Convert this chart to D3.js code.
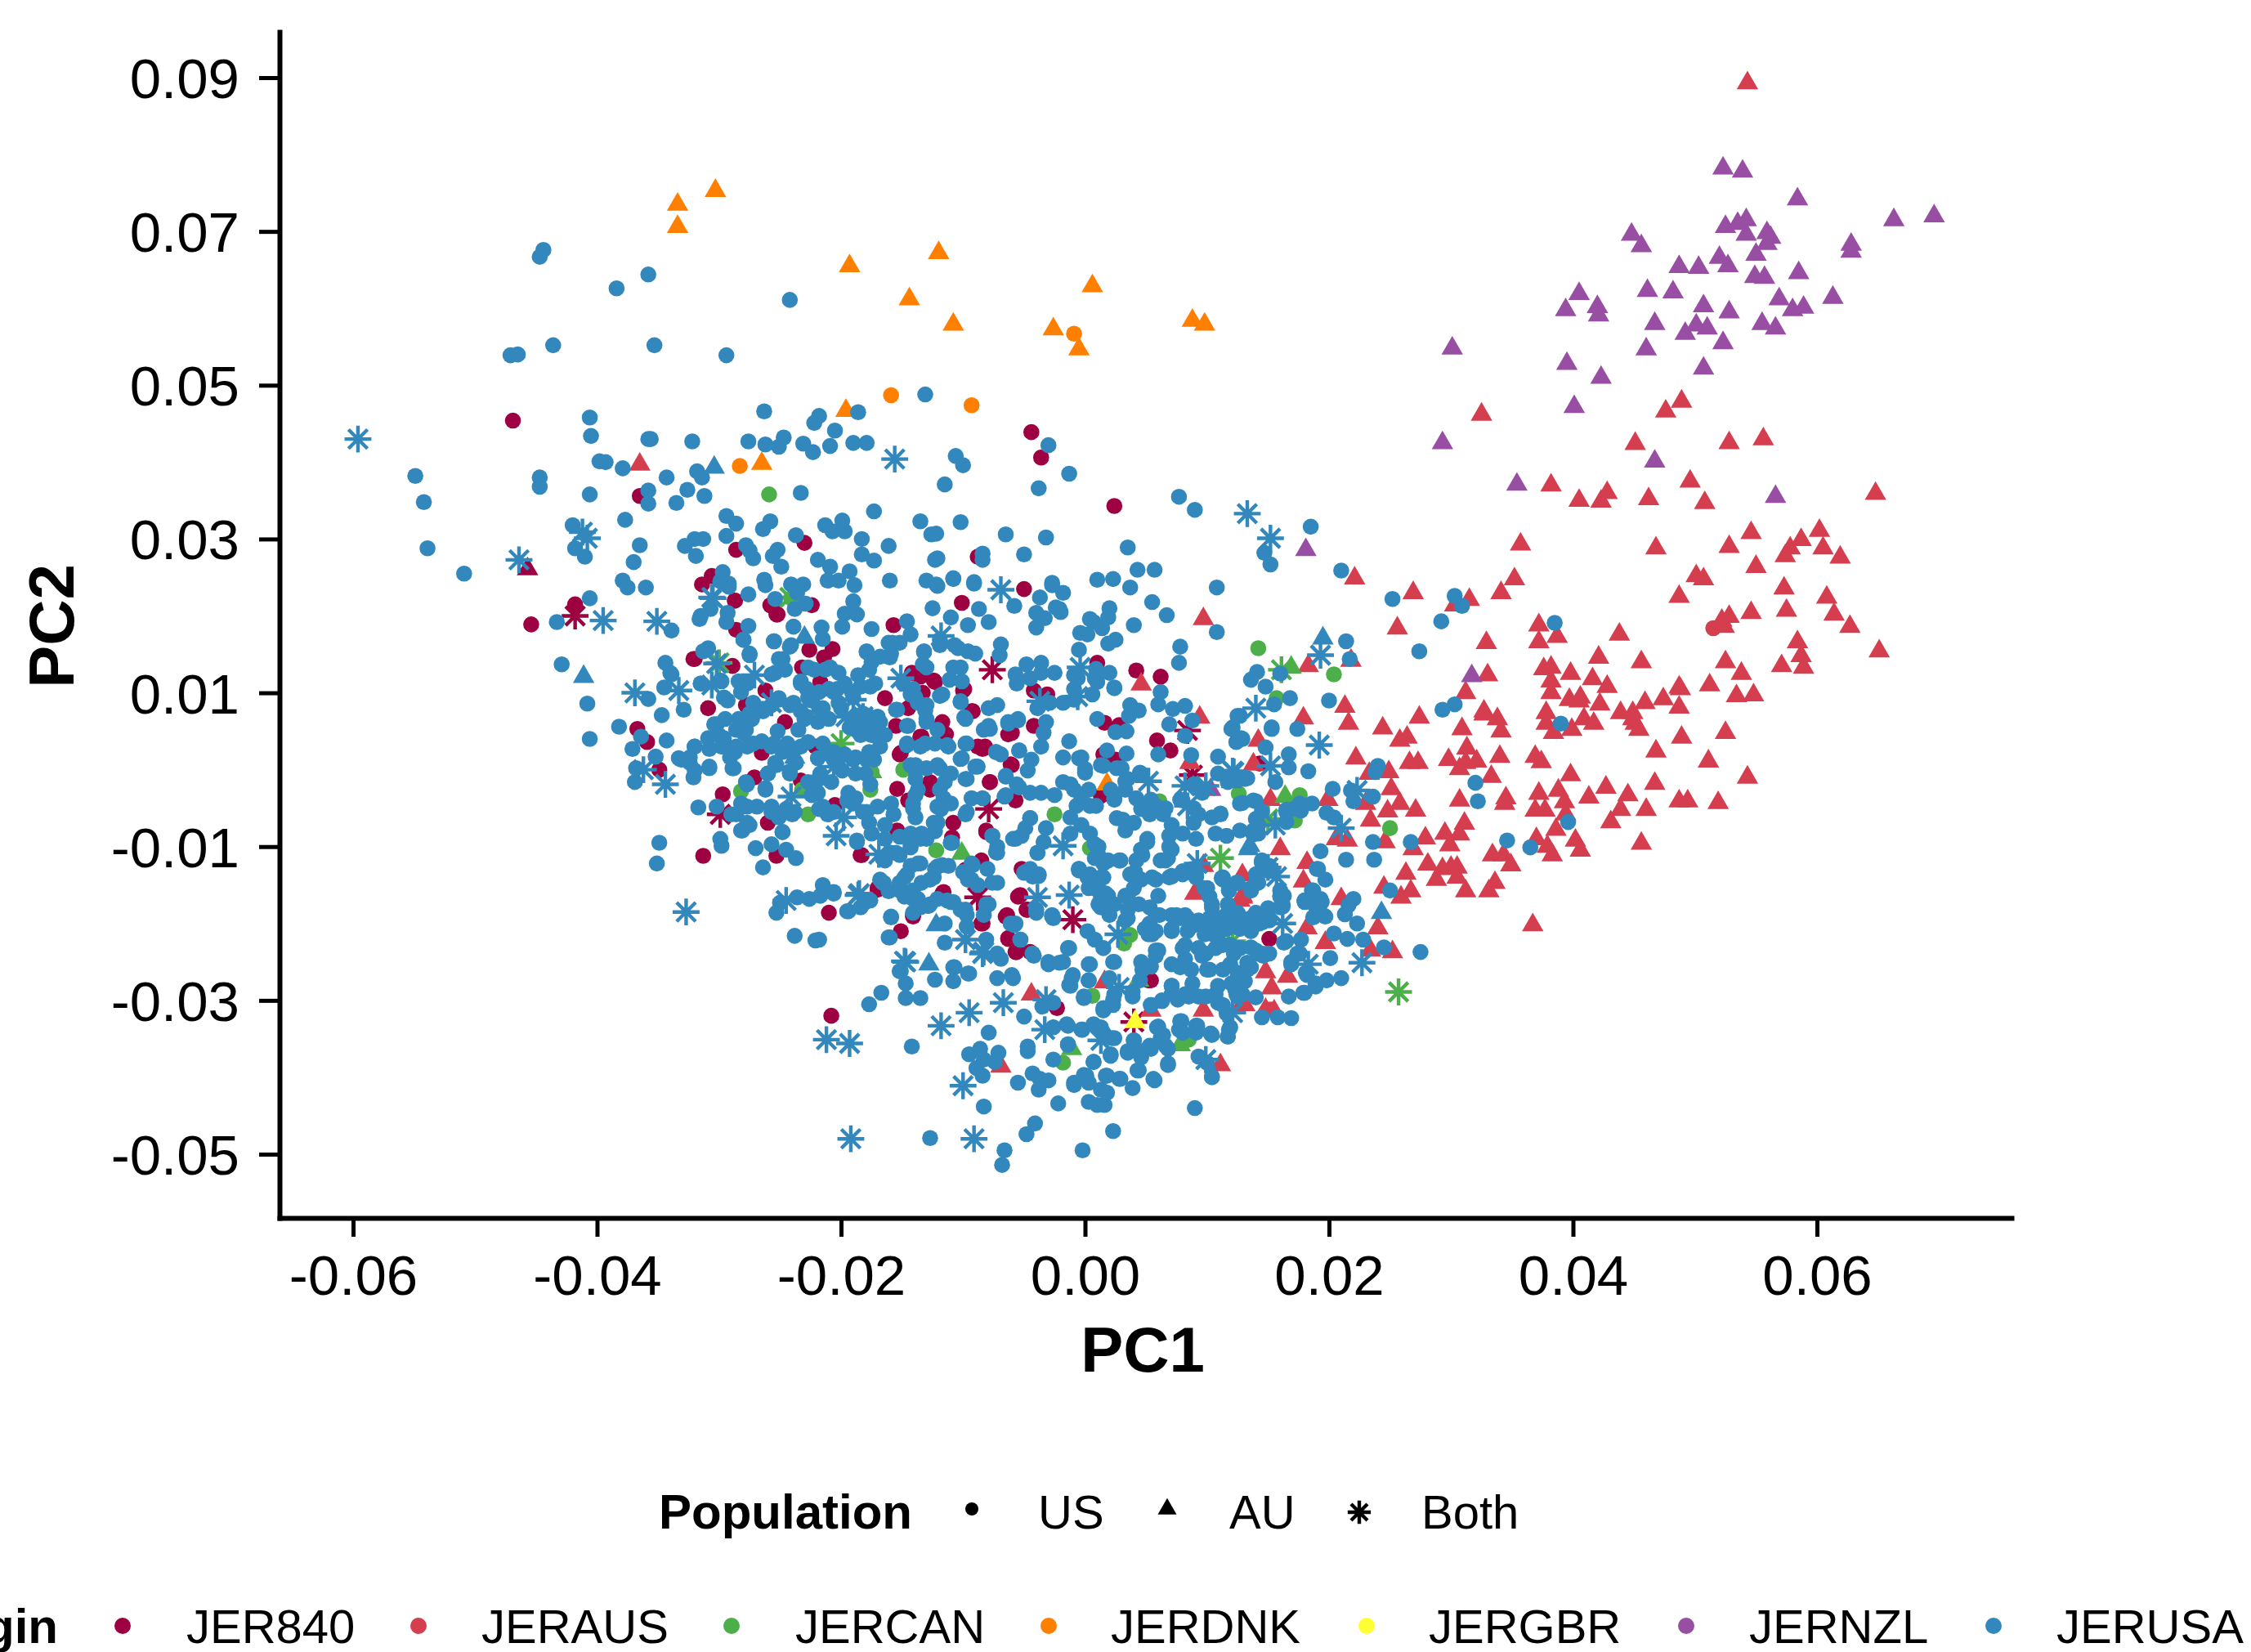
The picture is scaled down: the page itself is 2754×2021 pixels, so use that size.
<!DOCTYPE html>
<html><head><meta charset="utf-8">
<script src="https://cdn.jsdelivr.net/npm/d3@7/dist/d3.min.js"></script>
<style>html,body{margin:0;background:#fff}svg{display:block}text{font-family:"Liberation Sans",Arial,sans-serif;fill:#000}</style>
</head><body><svg id="c" width="2754" height="2021"></svg>
<script>
// Values: [PC1, PC2], both x 1000.
const xTicks=[-60,-40,-20,0,20,40,60];
const xTickLabels=["-0.06","-0.04","-0.02","0.00","0.02","0.04","0.06"];
const yTicks=[-50,-30,-10,10,30,50,70,90];
const yTickLabels=["-0.05","-0.03","-0.01","0.01","0.03","0.05","0.07","0.09"];
const origins=["JER840","JERAUS","JERCAN","JERDNK","JERGBR","JERNZL","JERUSA"];
const originColors=["#9E0142","#D53E4F","#4DAF4A","#FF7F00","#FFFF33","#984EA3","#3288BD"];
const populations=["US","AU","Both"];

const jer840US=[[-46.9,45.4],[-36.5,35.6],[-23,29.5],[-28.6,28.6],[-30.6,25.2],[-31.4,24.1],[-28.7,22],[-25.8,21.4],[-25.2,20.2],[-22.4,21.4],[-41.8,21.5],[-45.4,18.9],[-4.4,43.9],[-3.6,40.6],[2.4,34.3],[-8.8,27.7],[1,13.9],[4.2,12.9],[6.2,12.1],[1.6,6.1],[2.8,5.8],[5.9,3.8],[7,2.5],[1.5,2],[2.5,1.3],[1.3,-3.4],[-28.7,22],[-25.7,21.3],[-25.3,20.2],[-28.6,18.2],[-5,23.5],[-10.1,21.7],[-22.6,15.6],[-20.7,15.7],[-21.4,14.6],[-23.2,13.3],[-21.7,11.4],[-26.2,10.3],[-28.9,13.5],[-32,14.4],[-30.9,8],[-27.8,8.4],[-24.6,6.2],[-16.4,9.3],[-14.5,8],[-15.5,5.7],[-11.7,6.2],[-13.4,4.3],[-15.7,18.8],[-14.2,12.6],[-12.4,11.6],[-13.3,10],[-10,10.3],[-9.3,7.6],[-4.2,5.7],[-6.3,4.6],[-8.4,2.7],[-6,.6],[-7.8,-1.6],[-15.4,-2.5],[-15.1,2.2],[-12.7,-1.6],[-14.5,-4],[-10.8,-6.9],[-10.9,-8.8],[-8.1,-8.1],[-36.7,5.3],[-35.9,3.6],[-34.9,0],[-27.1,-1],[-29.7,-3.2],[-26,-6.9],[-20.5,-4.6],[-23.3,-1.4],[-22.1,3],[-26.5,2.2],[-31.3,-11.2],[-25.3,-11.2],[-18.4,-11.1],[-17,-15.4],[-21,-18.6],[-15.1,-21],[-11.6,-15.9],[-5.2,-12.9],[-5.3,-16.3],[-4.8,-18.2],[-6.4,-18.9],[-8.5,-20],[-6.3,-21.9],[-5.7,-23.7],[-14.1,-19.1],[-15.4,-7.9],[-9.8,-13],[-8.5,-11.8],[-5.7,-4],[-3.1,9.8],[-4.2,10.3],[-20.8,-32],[-2.3,-31],[15.1,-22],[-5.5,-16.5],[-8.4,-20],[-6.5,-19.1],[-6.3,-22],[-5.6,-23.7],[-4.5,-23.7],[-11.7,-16.1],[-14.1,-18.9],[-18.3,-11.1],[-17,-15.6],[5.2,-27.4],[14.3,.8],
[-32.1,14.4],[-13.5,12.1],[-12.3,11.4],[-12.7,-2.6],[-11.4,4.6],[-13.5,4.3],[-15.2,2],[-8.8,3],[-9.9,10.5],[-9.2,7.6],[-7.8,-1.6],[-6.1,.7],[-8.2,3],[-6,4.8],[-8.1,-7.9],[-5.4,-16.4],[-6.4,-19],[-5.6,-23.5],[-4.7,-18.2],[5.4,-27.4]];
const jer840AU=[[-45.7,26.1]];
const jer840Both=[[-41.8,20],[-7.6,13],[-7.9,-5.1],[-29.9,-5.8],[-8.8,-16.6],[8.4,5.1],[8.8,-.7],[4,-32.8],[-1,-19.5]];

const jerausUS=[[51.5,18.4],[15.2,-31.2]];
const jerausAU=[[54.3,89.3],[32.5,46.2],[48.9,47.9],[47.6,46.6],[45.1,42.4],[52.8,42.5],[55.6,43],[38.2,37],[49.6,37.5],[50.8,34.7],[40.5,35],[42.8,36],[42.3,34.9],[46.2,35.2],[64.8,35.9],[54.6,30.8],[60.2,31.1],[58.7,29.9],[57.8,28.8],[57.4,27.8],[60.5,28.8],[61.9,27.6],[52.8,29],[46.8,28.8],[35.7,29.3],[55,26.4],[50.1,25.2],[50.7,24.8],[35.2,24.8],[57.3,23.6],[34.1,23],[26.9,23],[48.7,22.5],[60.8,22.4],[31.5,22.1],[30.3,21.4],[57.5,20.7],[54.6,20.4],[61.4,20.2],[52.2,19.4],[52.8,19.9],[52.4,18.6],[62.7,18.6],[22.1,24.9],[25.6,18.4],[65.1,15.4],[58.4,16.6],[58.7,14.8],[58.9,13.3],[57.1,13.5],[52.5,14],[53.8,12.5],[51.2,11],[53.4,9.6],[54.8,9.7],[32.9,16.5],[37.2,18.8],[38.7,17.3],[37.2,16.6],[43.8,17.6],[42.1,14.6],[45.6,14],[33,12.3],[31.2,10],[37.6,13.1],[38.2,13.3],[39.8,12.5],[41.6,11.8],[38.2,11.5],[38.2,10],[42.8,10.8],[48.7,10.7],[48.8,10.5],[47.4,9.2],[45.9,8.7],[48.7,8.1],[40.6,9.4],[39.7,9.1],[40.5,8.9],[42.2,8.5],[37.8,7.4],[43.9,7.4],[44.9,7.4],[44.9,6.6],[45.1,6],[45.4,5.2],[32.7,7.6],[32.7,7.2],[33.8,6.6],[34.1,5],[40.9,6.6],[41.7,6],[37.8,6],[38.4,4.8],[39.9,5.2],[48.9,4.2],[52.5,4.8],[30.9,5.3],[27.4,6.8],[24.4,5.4],[26.4,4.2],[25.8,3.8],[46.8,2.4],[51.1,1.1],[31.3,2.8],[29.8,1.3],[34,1.7],[36.9,1.7],[37.4,1],[32.1,1.1],[31.2,.9],[30.7,.1],[27.3,.9],[26.6,.9],[22.2,1.5],[33.3,-.9],[39.8,-.7],[46.7,-1.8],[54.3,-1],[42.7,-2.3],[44.5,-3.3],[38.8,-2.7],[37.2,-3.1],[39.3,-4.2],[41.3,-3.6],[34.5,-3.7],[34.4,-4.4],[30.7,-4],[48.7,-4.1],[49.4,-4.1],[51.9,-4.3],[36.9,-5.3],[37.7,-5.3],[43.9,-5.2],[46,-5.2],[39.4,-5.8],[43.1,-6.8],[38.6,-7.8],[31.1,-7],[30.7,-8.4],[29.5,-8.3],[25.1,-2.5],[24.8,-5.4],[25.8,-4.4],[27.1,-5.3],[23.4,-6.6],[24.9,-.3],[23.3,-.5],[23,-4.4],[45.6,-9.6],[40.2,-9.2],[40.6,-10.5],[37,-9],[37.9,-10],[38.3,-11.1],[33.4,-11.1],[34.3,-11.1],[34.9,-12.4],[27.9,-8.9],[26.9,-10.3],[29.9,-9.8],[28.1,-12.3],[29.3,-12.9],[30,-12.7],[30.5,-12.7],[28.8,-14.3],[30.5,-14],[26.3,-13.5],[33.6,-14.7],[33.1,-15.8],[31.2,-15.8],[26.7,-15.8],[25.9,-16.6],[24.5,-15.3],[36.7,-20.2],[16,-10.3],[17.9,6.7],[21.3,8.2],[21.6,6],[14.2,3.8],[13.8,.7],[21.5,-9.2],[20.6,-9],[24.6,-9.4],[18.2,-12.1],[17.9,-14.5],[21,-16.8],[24,-20.6],[19.7,-22.5],[25.2,-23.7],[18.2,-20.6],[23.4,-23.5],[14.8,-26.3],[16.6,-26.9],[15.3,-28.4],[14.8,-31.2],[15.5,-31.4],[12.9,-30.4],[12.9,-16.6],[12.9,-13.7],[15.2,-3.9],[19.9,-3.9],[18.3,13.5],[21.8,14.2],[-36.5,39.7],[9.7,19.6],[4.6,11.1],[9.4,6.8],[8.6,.9],[-4.4,-29.2],[1.6,-27.6],[5.4,-31.3],[9,-16.1],[11.1,-38.4],[-6.9,-38.6],[9.7,-12.5],[12.9,-16.4],[13.1,-30.6],[9.7,-31.3],[12.7,-17]];

const jercanUS=[[-25.9,35.8],[-24.1,22.3],[14.2,15.8],[20.4,12.4],[15.7,9.3],[25,-7.6],[12.6,-3.1],[17.6,-3.3],[17.2,-6.6],[-2.5,-5.8],[6.1,-4.1],[-17.5,-.3],[-14.9,0],[-23.2,-2.6],[-28.2,-2.8],[-22.7,-5.8],[-17.6,-2.6],[-12.2,-10.5],[3.7,-21.5],[3.2,-22.6],[-1.8,-38.1],[.6,-29.4],[8.5,-35.1],[.4,-10.2]];
const jercanAU=[[16.9,13.3],[16.4,-3.5],[-10.1,-10.9],[7.8,-35.8],[-1.1,-36.3],[4.4,-27.4],[-17.5,-.3]];
const jercanBoth=[[16.1,13],[25.7,-28.9],[15,-6.4],[11.1,-11.5],[12.1,-22.3],[-24.2,22.4],[-30,13.9],[-20,3.4]];

const jerdnkUS=[[-15.9,48.7],[-28.3,39.5],[-.9,56.7],[-9.3,47.4]];
const jerdnkAU=[[-30.3,75.3],[-33.4,73.5],[-33.4,70.6],[-19.3,65.5],[-14.4,61.2],[-19.6,46.7],[-26.5,39.8],[-12,67.2],[.6,62.9],[-10.8,57.9],[-2.6,57.3],[-.5,54.7],[8.8,58.4],[9.8,57.9],[1.8,-1.9]];

const jergbrAU=[[4.1,-32.8]];

const jernzlAU=[[52.3,78.2],[53.9,77.8],[58.4,74.2],[66.3,71.5],[69.6,72],[52.5,70.6],[53.5,71],[54.2,71.5],[54.2,69.6],[55.9,69.8],[56.2,69.2],[55.9,68.4],[55,67],[44.8,69.6],[45.6,68.1],[62.8,68.3],[62.8,67.4],[52,66.6],[52.7,65.5],[48.7,65.4],[50.3,65.3],[54.9,64.1],[55.7,64],[58.5,64.6],[46.1,62.3],[48.2,62.1],[56.9,61.2],[61.3,61.4],[40.5,61.9],[39.4,59.8],[42,60.2],[42.1,59.1],[50.7,60.3],[58,59.8],[58.9,60.1],[52.8,59.5],[46.7,58],[50.1,57.8],[51,57.4],[49.2,56.7],[55.5,58],[56.6,57.4],[52.3,55.5],[46,54.7],[30.1,54.8],[39.5,52.8],[50.7,52.2],[42.3,51],[40.1,47.2],[29.3,42.5],[46.7,40.1],[35.4,37.1],[56.6,35.5],[18.1,28.6],[31.7,12.2],[10.3,-2.6]];

const jerusaUS=[
[-44.4,67.6],[-44.7,66.7],[-35.8,64.4],[-38.4,62.6],[-24.2,61.1],[-47.1,53.9],[-46.5,54],[-43.6,55.2],[-35.3,55.2],[-29.4,53.9],[-26.3,46.6],[-21.8,46],[-22.2,45.1],[-18.6,46.5],[-13.1,48.8],[-40.6,45.8],[-40.5,43.4],[-35.8,43],[-35.6,43],[-32.2,42.7],[-27.6,42.7],[-26.2,42.3],[-25.1,42],[-24.7,43.2],[-23.1,42.4],[-22.3,41.3],[-20.9,42.1],[-20.5,44.1],[-19,42.5],[-17.9,42.5],[-54.9,38.2],[-54.2,34.8],[-53.9,28.8],[-50.9,25.5],[-44.7,38],[-44.7,36.8],[-40.6,35.8],[-39.8,40.1],[-39.3,40],[-37.9,39.2],[-34.3,38],[-31.8,38.8],[-31.4,38],[-32.6,36.4],[-31.2,35.6],[-33.5,34.7],[-35.8,36.3],[-35.8,34.6],[-23.3,36],[-17.3,33.6],[-13.5,32.3],[-42,31.8],[-37.7,32.5],[-29.4,33],[-28.6,32],[-25.8,32.3],[-26.4,31.3],[-29.4,30.4],[-32,30],[-31.3,30],[-32.8,29.1],[-31.9,27.8],[-36.5,29.2],[-37,27],[-41.8,28.8],[-41,27.7],[-27.8,29.2],[-27.5,28.5],[-27.2,27.5],[-25.6,27.8],[-25.2,28.6],[-24.9,26.4],[-23.7,30.5],[-21.3,31.8],[-20.7,31],[-19.9,32.4],[-19.7,31],[-18.3,30],[-16.1,29.1],[-18.3,28],[-17.3,27.2],[-21.9,27.3],[-20.9,26.4],[-21.1,24.6],[-20.2,24.6],[-19.3,25.8],[-18.9,24],[-16,24.6],[-13,24.6],[-37.9,24.6],[-37.5,23.7],[-36,23.7],[-29.7,25.7],[-29.9,24.5],[-29.2,24.2],[-29.2,23.8],[-27.6,22.8],[-26.3,24.7],[-26.2,24],[-24.1,24.1],[-23.1,24.1],[-23.6,23],[-25.4,22.2],[-23.8,20.9],[-22.9,21.6],[-19,21.9],[-19.7,20.3],[-18.7,20.2],[-29.3,20.4],[-30.7,20.9],[-31.5,20],[-40.6,22.3],[-12.6,30.6],[-12.3,27.3],
[-3,42.2],[-10.6,40.8],[-10,39.6],[-1.3,38.5],[-11.5,37.1],[-3.8,36.6],[7.7,35.5],[9,33.8],[-10.2,32.2],[-12.2,30.7],[-6.5,30.6],[-3.2,30.2],[3.5,28.9],[-8.4,28.1],[-8.4,27.3],[-5,28],[-12.1,27.5],[4.3,26],[5.7,26],[1,24.7],[2.3,24.8],[3.7,23.7],[10.8,23.7],[-10.8,24.8],[-9.1,24.2],[-12.1,23.9],[-2.7,24],[-1.8,23],[5.5,21.8],[6.7,20.1],[4,18.8],[10.8,17.9],[7.8,16],[7.7,13.9],[.4,19.6],[2,21],[1.9,19.8],[.7,19.2],[1.4,18.4],[-.4,17.8],[.2,17.6],[2.5,16.9],[1.9,16.4],[-.5,15.6],[2,12.6],[.9,13.1],[-.6,11.9],[1,11.4],[2.4,10.6],[6.2,10.1],[6,8.5],[7.2,7.9],[8.2,8.3],[3.7,8.4],[4.4,7.7],[3.6,7],[1,6.6],[2.5,4.9],[3.4,5],[6.9,5.9],[8.8,6.4],[8.2,4.4],[10.9,1.7],[8.7,1.9],[6,2],[3.4,2.1],[1.8,2.5],[-1.3,3.7],[-.5,1.5],[0,-.4],[1.5,.5],[3,.2],[4.5,-.4],[3.3,-1.5],[2.1,-2.6],[.3,-2.6],[-1.2,-1.9],[.9,-4.7],[-.3,-3.9],[2.4,-3.9],[5.4,-3.9],[6.6,-5],[7.8,-3.9],[8.9,-5],[11.1,-5.7],[10.9,-.5],[12.6,-1.2],[11.7,-1.6],[-2.1,20.9],[-2,20.5],
[18.5,31.6],[14.7,28.2],[15.2,26.7],[21,25.9],[25.2,22.2],[30.3,22.6],[30.9,21.3],[29.2,19.3],[27.4,15.4],[21.4,16.7],[21.7,14.4],[38.5,19.1],[30.3,8.5],[29.3,7.8],[39,6],[20,9],[16.8,9.3],[15.5,8.5],[32,-1.7],[32.2,-4.1],[39.6,-6.8],[34.6,-9.2],[36.5,-10.1],[26.7,-9.4],[23.6,-9.4],[19.3,-10.6],[25,-15.7],[17.4,5.3],[15.3,5.3],[12.7,7],[12.1,5.5],[12.9,4],[12.4,3.6],[14.8,2.9],[16.7,2],[16.7,.3],[18.3,-.2],[15.6,-1.6],[20.3,-2.5],[24,.5],[23.8,-.3],[21.8,-2.7],[22,-4.1],[23.6,-3.5],[14.1,12.7],[13.6,11.7],[14.8,10.8],[16,12.5],[12.9,-4.3],[14,-4.1],[16.5,-5.2],[17.7,-5.3],[18.6,-4.4],[19.8,-5.6],[20.4,-6.2],[16.5,-6.8],[14,-6.4],[13.8,-8.4],[12.4,-.9],[13.3,-1.1],[14.5,-12.1],[15,-12.9],[19.1,-12.9],[19.7,-14.3],[16,-15.7],[16.2,-17.8],[18.6,-15.7],[19.3,-16.8],[18,-17],[18.9,-17.8],[19.6,-19],[18.7,-19.2],[22,-16.8],[21.6,-17.6],[21.3,-18.8],[22.3,-20],[20.4,-21.3],[21.5,-22],[22.8,-22.1],[24.5,-23.1],[27.5,-23.7],[20.1,-24.5],[17.5,-23.9],[16.9,-25.3],[18.2,-26.7],[19.8,-27.4],[21,-27.1],[18.9,-28.2],[17.9,-29],[16.7,-29.5],[14,-29.6],[16.5,-22.3],[17.7,-22.1],[15,-23.9],[13.6,-23.1],[13.3,-25.1],[12.2,-23.9],[13.1,-27.5],[14.6,-19.8],[12.6,-19.4],[13.6,-21],[15,-18],[13.6,-15.7],[12.2,-18.6],[14.5,-32.2],[15.8,-32.2],[16.9,-32.3],[21.4,-11.7],[23.7,-11.7],
[-43.3,19.2],[-42.9,13.7],[-40.8,8.6],[-40.6,4],[-38.2,5.6],[-34.7,7.1],[-32.9,7.8],[-35.8,9.2],[-33.9,18.1],[-34.4,13.9],[-33.9,12.4],[-34.5,10.7],[-31.5,11.2],[-29.9,11.6],[-31.6,19.6],[-29.4,19.2],[-27.6,18.7],[-28,16.9],[-27.5,14.9],[-25.5,16.7],[-23.9,18.6],[-21.6,18.5],[-21.5,17],[-24.1,16.2],[-24.8,14.4],[-25.4,12.6],[-19.9,18.6],[-17.5,18.3],[-12.2,24.1],[-12.5,21],[-11,19.8],[-9.1,24.4],[-10.8,24.9],[-5.8,21.3],[-9.6,18.8],[-8.7,20.9],[-7.9,19.2],[-3.7,22.4],[-2.7,24.3],[-4,20.4],[-3.3,19.7],[-4,18.5],[-6.9,16.3],[-7,14.9],[-2.4,21.1],[-14.6,19.3],[-14.3,17.6],[-15.8,16.5],[-17.9,15.3],[-16,14.6],[-13.2,15.3],[-11.9,16.9],[-10.4,15.8],[-9,15.1],[-10.2,13.3],[-11.1,11.7],[-13.3,13.7],[-4.8,13.7],[-3.6,13.9],[-5.7,12.4],[-11.7,9.8],[-10.2,8.9],[-9.9,6.8],[-22.7,13.3],[-20.9,13.3],[-23.3,11.2],[-21.8,10.1],[-20.3,10.5],[-19.1,10.1],[-17.6,10.8],[-14.9,11.2],[-14.3,9.8],[-13.7,8.7],[-13.1,7.7],[-13,6.2],[-15.4,7.8],[-14.5,5.7],[-28.1,10.9],[-29.6,9.4],[-27.2,8.7],[-25.1,9.1],[-23.9,8.7],[-22.7,9.4],[-21.8,8],[-23,6.6],[-20,8],[-18.2,7.3],[-17,6.9],[-17.3,5.5],[-18.2,4.8],[-16.9,4.1],[-18.8,5.2],[-30.2,5.9],[-28.4,6.6],[-29.6,4.1],[-27.8,5.2],[-25.2,5],[-27.2,3.4],[-28.7,2.3],[-30.8,2.7],[-32,3],[-33.3,1.5],[-32.4,.9],[-30.8,.2],[-32.1,-1],[-34.3,3.8],[-37.1,2.7],[-36.4,4.3],[-35.2,1.7],[-36.9,-1.6],[-36.8,.2],[-28.8,.2],[-25.7,3],[-23.9,2.7],[-22.7,3.6],[-21.5,3.4],[-26,-.5],[-27.8,-1.6],[-26.2,-2.6],[-30.2,-4.8],[-31.7,-4.9],[-28.2,-4.4],[-29,-5.8],[-27.7,-6.9],[-28.1,-7.9],[-24.8,-8.1],[-25.7,-5.5],[-24.5,-5.1],[-23.8,-5.5],[-22.7,-1.6],[-22.4,-3.3],[-21.8,-5.1],[-21.1,-5.8],[-25.4,.9],[-24.2,-.2],[-21.8,-1.2],[-20.3,.9],[-18.8,1.6],[-20.6,2.3],[-18,-.5],[-17.6,-1.9],[-19.4,-3],[-18.8,-3.7],[-18.2,-5.5],[-17.3,1.3],[-13.9,.6],[-13.9,-1.2],[-13.9,-3.3],[-14.1,-5.1],[-11.9,.2],[-11.5,-1.6],[-11.6,-3.7],[-11.8,-5.1],[-12.4,-6.9],[-13.4,-8.3],[-14.6,3.2],[-13.1,3.4],[-11.3,3.2],[-9.8,3.4],[-10.2,1.4],[-8.8,.4],[-7.3,2.3],[-5.4,2.5],[-6.5,-.9],[-9.7,-1.2],[-8.4,-3.7],[-9.7,-5.5],[-6.6,-3.5],[-5.4,-2.3],[-4.5,-6.3],[-7.8,5.3],[-6.3,6],[-5.5,6.4],[-3.9,8],[-7.6,-8.6],[-5.7,-9],[-7.2,-10.8],[-3.9,-10.8],[-10.9,-9.5],[-16.4,-11.8],[-15.5,-10.8],[-13.7,-12.2],[-12.1,-12.6],[-14.6,-13.6],[-16.6,-14.7],[-15.2,-15.7],[-14.1,-16.8],[-12.9,-17.7],[-11.3,-17],[-10.2,-18.2],[-9.6,-14.3],[-7.6,-14.7],[-8.1,-17.7],[-4.9,-13.3],[-3.9,-13.8],[-5.8,-20.2],[-2.7,-18.9],[-4,-18.2],[-18.7,-9.4],[-14.3,-9.7],[-34.9,-9.5],[-35.1,-12.2],[-29.9,-9],[-29.8,-9.9],[-27,-10.2],[-25.7,-9.7],[-24.5,-10.4],[-23.7,-11.5],[-26.4,-12.7],[-25.3,-18.6],[-25,-17.3],[-23.6,-16.6],[-22.6,-16.8],[-21.5,-15],[-21.7,-16.4],[-20.6,-15.9],[-19.4,-18.4],[-18.4,-17.9],[-17.6,-17],[-15.9,-19.2],[-16,-21.8],[-23.8,-21.6],[-22.1,-22.2],[-11.5,-22.5],[-9.7,-20.4],[-4.2,-24.2],[-3,-25.3],[-10.7,-25.7],[-9.6,-26.5],[-15.2,-26.2],[-6.9,-24.6],[-6,-26.7],
[-6.8,-51.4],[-6.6,-49.5],[-4.8,-47.4],[-4.1,-46],[-12.7,-47.9],[-.2,-49.5],[2.3,-47],[9,-44],[-8.3,-43.8],[-2.2,-43.4],[.3,-43.2],[1,-43.6],[1.6,-43.6],[1.8,-42],[1.3,-41.6],[3.9,-41.4],[5.7,-40.4],[10.4,-40],[6.8,-38.4],[4.4,-39.1],[2.8,-40.2],[1.8,-39.8],[.3,-40.7],[-.9,-41],[-.1,-39.7],[.7,-38],[-2.6,-37.7],[2.1,-37],[3.5,-36.6],[4.6,-37.4],[5.4,-36.3],[6.8,-36.3],[4,-35.2],[-1.4,-35.7],[-4.7,-36],[-4.7,-36.6],[-14.2,-36],[-7.9,-34.2],[-5,-32.1],[-5.5,-40.7],[-4.3,-39.5],[-3.8,-41.6],[-3,-40.4],[-3.7,-40.2],[-8.4,-39.8],[-8.9,-38.8],[-9.5,-37],[-8.6,-36.3],[-7.1,-36.8],[-8.3,-37.7],[-7.4,-38],[-1.4,-33.3],[-2.6,-33.5],[-.2,-33.8],[1.3,-33.5],[2.2,-34.9],[5.9,-33.5],[6.4,-34.5],[7.8,-32.7],[8,-34.2],[9.2,-33.3],[10.4,-34.5],[11.7,-34.7],[11.9,-33.5],[6.3,-30.1],[5.4,-30.6],[18,-29],[18.9,-27.8],[18.1,-26.4],[16.9,-25],[17.4,-23.9],[-17.7,-30.5],[-16.7,-29],[-14.7,-29.7],[-13.5,-29.7],[-14.7,-27.8],[-15.1,-26.2],[-12.3,-27.3],[-10.8,-25.7],[-10.8,-27.5],[-9.5,-26.5],[-7.2,-27.1],[-5.9,-27.1],[-1.3,-28],[.3,-27.4],[-1.1,-27.1],[-.1,-29.7],[-3.5,-30.8],[-2.6,-30.3],[1.5,-31],[2.3,-29.9],[.3,-25.3],[3.9,-28.9],[4.7,-26],[2.3,-25],[-.5,-13.1],[.6,-14.3],[1.5,-14],[.3,-15.4],[1.3,-16.5],[2,-17.5],[3.4,-16.5],[4.1,-13.3],[5.1,-9.4],[4.7,-11.1],[4.1,-14],[4.4,-17.5],[3.5,-19.3],[6.1,-18.9],[5.2,-21.4],[5.8,-24.2],[7.1,-28.1],[6.8,-11.5],[7.1,-13.8],[8.8,-12.9],[10.2,-16.5],[10,-15.4],[11.7,-17.5],[11.7,-18.6],[14,-13.6],[14.5,-12],[16,-16.5],[16,-17.9],[11.2,-14.1],[12.4,-14.7],[7.8,-19.3],[8.8,-20.3],[10.5,-21.4],[12.2,-20.3],[14.3,-20],[14,-18.6],[12.6,-18.9],[10.2,-19.3],[8.2,-22.8],[9.9,-23.9],[11.9,-22.8],[14,-23.5],[14.6,-24.2],[13.3,-26],[11.9,-25.3],[10.2,-26],[7.8,-25.7],[8.8,-27.8],[10.9,-28.1],[12.3,-28.5],[9.9,-29.5],[8.5,-29.5],[10.9,-30.3],[11.6,-31.7],[7.1,-29.2],[12.4,-29.2],[-21.4,-15.7],[-20.6,-16.1],[-19.5,-18.4],[-18,-17.2],[-16.1,-21.8],[-21.8,-22.1],[-11.5,-20],[-13.4,-14.7],[-15.1,-15.7],[-16.5,-14.7],[-12.4,-14],[-13.7,-16.8],[-14.1,-18.6],[-12.7,-17.5],[-11.7,-12.4],[-10,-13.3],[-9.3,-12.2],[-7.2,-10],[-11,-9.5],[-9.3,-14.3],[-11,-17.2],[-9.8,-18.2],[-8.3,-18.9],[-8.1,-17.5],[-5.7,-20],[-5.3,-22.1],[-3.8,-13.6],[-4.5,-12.9],[-2.6,-19.3],[-3,-25],[-2.1,-25.1],
[-30.4,5.9],[-29.5,6.6],[-28.6,5.2],[-30,4.5],[-30.9,4.1],[-28,4.8],[-27.3,6.6],[-29.8,3],[-29.1,1.6],[-28.6,3],[-27.7,3],[-28.9,.2],[-32,3],[-32.4,1.6],[-33.1,1.3],[-32,-.1],[-30.8,.4],[-26.5,3.7],[-25.5,3.4],[-24.8,2.3],[-25.3,.6],[-23.7,.9],[-24.2,-.5],[-26,-.5],[-26.2,-2.4],[-24.4,3.4],[-23.3,3],[-23.5,5.2],[-22.8,6.9],[-21.9,6.2],[-21,6.6],[-21.5,8],[-22.4,9],[-23.3,7.6],[-24.2,8.4],[-25.1,9.3],[-25.7,8.4],[-26.4,7.6],[-27.5,7.3],[-23.3,11.5],[-22.2,13],[-21.3,13],[-20.2,12.6],[-20.6,10.1],[-19.7,11.2],[-18.6,12.3],[-17.7,13],[-17.2,11.2],[-18.4,10.8],[-19,9.4],[-20.2,8.7],[-21,10.5],[-22.8,10.5],[-16.8,14.7],[-15.9,15.1],[-17.5,14],[-16.1,16.5],[-18.8,6.9],[-17.7,6.9],[-16.8,6.2],[-18.1,5.5],[-19.3,5.5],[-17.5,4.5],[-16.4,4.5],[-18.4,4.5],[-16.8,3],[-17.7,2.3],[-17.9,1.3],[-19,1.3],[-19.7,2],[-20.6,1.3],[-19.9,-.1],[-18.8,-.5],[-21,2.3],[-21.9,1.5],[-21.7,-.5],[-22.2,-1.6],[-20.8,-1.6],[-21.9,-3],[-21.5,-4.8],[-20.6,-5.5],[-19.5,-4],[-19,-4.4],[-17.9,-5.5],[-17.7,-6.9],[-17,-4.8],[-15.9,-4.4],[-15.7,-5.8],[-16.4,-7.2],[-17.5,-8.3],[-16.4,-9],[-15.2,-8.7],[-14.3,-8.3],[-13.5,-9],[-12.3,-8],[-12.1,-6.9],[-13.9,-6.2],[-14.1,-4.4],[-13.7,-2.6],[-13.9,-.1],[-13,.2],[-14.3,.6],[-12.1,.6],[-11,-.5],[-11.9,-2.6],[-11,-4.4],[-12.1,-4.8],[-9.8,-1.2],[-9.3,-3.7],[-9.8,-5.8],[-9,.4],[-14.6,3.4],[-13.5,3],[-12.3,3.4],[-11.2,3],[-9.7,3.4],[-10.1,1.5],[-14.1,10.5],[-13.9,9.4],[-13,8.4],[-13,6.6],[-12.1,5.2],[-13,13.3],[-13.2,15.4],[-11.9,16.2],[-10.7,16.2],[-9.6,15.4],[-10.8,13.3],[-10.1,11.5],[-11.9,9.6],[-10.2,8.8],[-9.8,6.6],[-15.5,7.8],[-14.6,5.7],[-29.3,9],[-28.4,11.5],[-28.2,10.1],[-27.7,11.2],[-27.5,15.1],[-29.8,11.5],[-31.5,11.2],[-31.3,15.4],[-30.9,15.8],[-25.1,14.4],[-24.6,13],[-25.7,12.4],[-24.2,16],[-28,16.9],[-25.5,16.7],[-17.9,15.4],[-15.2,16.5],[-34,12.6],[-27.7,-1.9],[-28.6,-5.8],[-27.7,-4.8],[-26.9,-4.8],[-25.7,-4.8],[-25.1,-6.2],[-24,-5.8],[-28.2,-7.9],[-27.5,-7.2],[-24.8,-8.1],
[-16.8,-14.3],[-16.1,-15.8],[-15.2,-14.7],[-14.8,-16.5],[-14.1,-15.7],[-13.5,-17.9],[-12.8,-17.7],[-15.9,-19.1],[-12.1,-16.8],[-10.8,-17.2],[-9.7,-18.9],[-16.6,-11.5],[-15.9,-10.8],[-15.2,-11.1],[-14.3,-12.5],[-13.5,-12.2],[-12.3,-12.9],[-11.2,-12.5],[-9.2,-12.4],[-9.4,-14.3],[-8.8,-15],[-14.8,-14],[-12.7,-14.3],[-14.3,-10.1],[-13,-9],[-18.7,-9.2],[-11,-9.5],
[-5.6,11.2],[-4.5,11.9],[-3.6,12.6],[-2.5,12.6],[-.9,12.3],[-.9,10.5],[-.9,9.1],[-1.8,8.7],[-2.9,8.7],[-3.8,8.2],[.8,11.9],[.6,9.8],[2.4,10.7],[-3.2,6.2],[-3.4,4.8],[-3.6,3],[-4.4,1.3],[-4.7,-.1],[-5.6,-1.9],[-6.5,-3.3],[-4.5,-3],[-3.6,-3],[-2.5,-3.3],[-1.8,-1.6],[-.9,-2.6],[-1.8,1.6],[-.3,1.6],[0,.1],[1.3,.6],[2.6,.2],[4.6,-.5],[3.5,-1.2],[3.3,-2.6],[4.2,-3.7],[2.4,-3.7],[.4,-4.7],[-.7,-4.7],[-1.2,-6.2],[-.3,-7.2],[-1.2,-8.3],[.4,-8.3],[3.1,-6.5],[2.6,-6.3],[4,-6.9],[3.3,-7.9],[4.6,-5.1],[5.3,-5.8],[6.4,-5.8],[5.8,-4.7],[7.1,-7.2],[8,-8.3],[9.1,-9],[10.7,-8.3],[11.6,-8.6],[12.7,-7.9],[13.8,-7.9],[14.2,-8.3],[10.4,-6.2],[9.3,-5.8],[8.9,-6.9],[8,-4],[8.9,-1.9],[9.6,-3],[11.1,-5.8],[12.7,-1.2],[11.6,-.9],[13.1,-1.2],[12.7,-4.4],[13.8,-4],[14.5,-5.4],[.8,-9.7],[1.1,-11.1],[1.9,-11.8],[2.8,-11.8],[4.6,-10.4],[5.1,-9],[4.2,-11.8],[6.2,-11.8],[7.1,-10.4],[6.9,-8.6],[4,-13.6],[4.6,-14.3],[5.8,-14.3],[7.1,-13.9],[8,-13.2],[9.1,-13.6],[10,-15.4],[10.4,-17.5],[11.1,-19.3],[-.5,-12.9],[.4,-13.6],[1.1,-15.4],[1.9,-16.4],[3.3,-16.4],[4,-15.4],[6,-16.4],[5.3,-17.9],[5.8,-18.9],[3.5,-18.2],[3.3,-19.6],[1.3,-17.9],[.2,-21],[.8,-22.1],[1.5,-23.2],[2,-18.9],[4.9,-20.7],[5.8,-21],[7.5,-18.9],[8.4,-19.3],[9.3,-19.6],[10.2,-20.7],[11.6,-20.7],[12.7,-20.7],[13.8,-20],[14.7,-18.9],[7.1,-20.7],[8,-23.2],[9.3,-23.2],[10.7,-23.2],[12.7,-23.2],[14.5,-23.9],[16.3,-22.5],[17.6,-23.9],[-7.9,8],[-7.2,8.4],[-6.3,6.2],[-5.5,6.6],[-7.9,5.7],[-8.3,5.2],[-7.3,2.3],[-6.9,2],[-5.4,2.5],[-6.5,-.8],[-7.3,-10.7],[-7.6,-8.6],[-5.9,-9],[-5.2,-8.6],[-3.9,-10.8],[-4.5,-6.3],[-4.9,-7.6],[-3.2,-7.6],[-3.4,-9.4],[-4.3,-13.9],[-5,-13.4],[-3.8,-13.8],[-8,-12.9],[-7.2,-14.7],[-7.9,-17.5],[-4,-18.6],[-2.7,-19.1],[-6.1,-20],[-5.3,-22.1],[-8.1,-22.1],[-1.4,-23.2],[-7.2,-23.9],[-4.3,-23.9],[15.3,5.5],[12.5,7],[12,5.3],[12.8,4.1],[11.3,-14.3],[11.8,-15.7],[12.5,-14.7],[13.6,-15.4],[14,-14.7],[16.3,-16.4],[16.1,-17.5],[18,-17.2],[14.5,-11.8],[15.1,-12.5],[14.2,-7.2],[16.5,-5.5],[17.1,-5.1],[17.6,-4.4],
[1.1,-10],[.8,-11.5],[1.5,-12.2],[2.9,-11.8],[-.5,-12.9],[.2,-14],[1.3,-14],[.8,-15.4],[1.7,-16.1],[1.1,-17.5],[2.4,-17.5],[3.5,-16.4],[3.7,-13.6],[4.6,-10.4],[6.9,-10],[6.6,-11.8],[5.5,-14],[6.9,-14],[8,-13.6],[9.1,-14],[9.8,-15.4],[10.4,-17.9],[11.1,-19.3],[12.5,-18.6],[13.6,-19.3],[14.9,-18.6],[15.4,-13.2],[16,-16.4],[16.2,-17.5],[11.3,-14],[12.5,-14.7],[11.8,-15.7],[13.6,-15.7],[14.2,-14.7],[19,-12.9],[18.7,-15.7],[19.4,-17.2],[18,-17],[19.7,-19.1],[7.1,-18.9],[8.2,-18.9],[5.3,-20],[5.5,-21.4],[6,-23.5],[7.1,-21],[8.4,-21],[9.8,-21.4],[11.1,-21],[12.5,-20],[13.8,-20.3],[15.1,-19.6],[11.3,-22.8],[12.7,-23.2],[14.2,-23.9],[15.1,-23.9],[7.1,-25.3],[8.2,-24.6],[9.6,-24.2],[8.7,-26],[10,-26],[11.3,-26],[12.5,-26.4],[13.6,-25.7],[7.1,-28.1],[8.2,-29.2],[9.3,-29.5],[10.7,-29.2],[12,-27.8],[12.9,-29.2],[11.3,-30.6],[12.5,-29.5],[7.6,-29.9],[5.8,-23.5],[4.6,-25],[5.4,-25.6],[-1.2,-28.1],[-1,-26.7],[.3,-27.4],[-1.3,-23.2],[-1.8,-25],[.4,-25.3],[2.4,-25],[2,-27.1],[2.4,-29.2],[2.3,-30.6],[4.5,-27.4],[3.9,-29.5],[5.4,-30.6],[6.3,-30],[1.5,-31.3],[-.1,-29.5],[-1.5,-33.1],[-.3,-33.8],[.7,-33.1],[1.5,-34.2],[2.4,-34.9],[2.1,-37.2],[-1.4,-35.8],[.7,-38],[4,-35.2],[3.5,-36.8],[4.6,-36.6],[5.3,-35.9],[6.6,-35.9],[6,-33.4],[6.2,-34.9],[7.9,-32.7],[7.7,-33.8],[9.1,-33.3],[9.1,-34.2],[10.3,-34.3],[11.8,-33.8],[11.7,-34.7],[6.8,-38.2],[4.3,-39.1],[2.9,-40.2],[1.7,-39.8],[.1,-39.8],[-.9,-40.7],[5.6,-40.2],[10.4,-39.9],[9.3,-37.3],[10,-38.1]];
const jerusaAU=[[-30.4,39.3],[19.5,17.1],[24.3,-18.6],[13.4,-10.3],[-41.1,12.1],[-23.8,1.6],[-12.2,-20.2],[-12.8,-25.3],[-23,17.2],[12,-1.6],[13.5,-9.9]];
const jerusaBoth=[[-59.6,43],[-15.6,40.4],[-41.2,30.9],[-40.8,30.1],[-46.4,27.3],[-30.5,22.3],[-39.5,19.4],[-35.1,19.3],[13.3,33.3],[15.2,30.1],[-.4,13.3],[-.6,9.5],[-3.7,8.9],[5.2,-1.5],[8.2,-2.1],[9.9,-2.1],[8.4,-4.7],[12.1,-.2],[19.2,3.2],[14,8],[19.3,14.9],[15.2,.5],[12.2,-.3],[22.3,-2.7],[21,-7.6],[15.6,-7.2],[15,-12.7],[15.7,-13.9],[16.2,-20],[18.3,-25.3],[22.7,-25.1],[12.1,-31.6],[-36.9,10],[-33.3,10.3],[-36.2,0],[-34.4,-1.9],[-32.7,-18.5],[-30.6,22.4],[-30.2,13.8],[-27.1,12.3],[-30.6,11],[-25.7,8.7],[-15.1,11.9],[-11.8,17.4],[-6.9,23.4],[-19,9.1],[-19.6,6.9],[-18.2,6.9],[-24.1,-3.5],[-19.8,-6.2],[-20.4,-8.6],[-16.9,-11],[-24.5,-17],[-18.6,-16.3],[-14.8,-24.9],[-9.8,-22.1],[-8.4,-23.9],[-3.9,-16.6],[-20.6,.4],[-18.5,-16.1],[-1.3,-16.3],[-1.8,-9.9],[2.7,-21.4],[-3.2,-29.9],[2.8,-28.3],[-3.3,-33.8],[-6.7,-30.3],[-9.5,-31.6],[-11.8,-33.3],[-14.7,-25],[-21.2,-35.1],[-19.3,-35.6],[-19.2,-48],[-9.1,-48],[-10,-41.1],[-8.3,-23.7],[1.3,-35.2],[9.9,-37.7],[9.2,-12.2]];

const legendDotX=[150,512,895,1283,1672,2063,2439];
const legendTextX=[228,589,973,1359,1748,2140,2516];
const popSymbolX=[1189,1428,1663];
const popTextX=[1270,1504,1739];

const svg=d3.select("#c");
const x=d3.scaleLinear().domain([-60,60]).range([432,2223]);
const y=d3.scaleLinear().domain([-50,90]).range([1412,95]);

const star={draw(ctx,size){const r=Math.sqrt(size);
  for(let i=0;i<4;i++){const a=i*Math.PI/4,c=Math.cos(a)*r,s=Math.sin(a)*r;ctx.moveTo(-c,-s);ctx.lineTo(c,s);}}};
const circle=d3.symbol().type(d3.symbolCircle).size(Math.PI*9.8*9.8)();
const tri=d3.symbol().type(d3.symbolTriangle).size(300)();
const ast=d3.symbol().type(star).size(270)();
const shape={US:circle,AU:tri,Both:ast};

const layers=[
 ["JER840","US",jer840US],["JER840","AU",jer840AU],["JER840","Both",jer840Both],
 ["JERAUS","US",jerausUS],["JERAUS","AU",jerausAU],
 ["JERCAN","US",jercanUS],["JERCAN","AU",jercanAU],["JERCAN","Both",jercanBoth],
 ["JERDNK","US",jerdnkUS],["JERDNK","AU",jerdnkAU],
 ["JERGBR","AU",jergbrAU],
 ["JERNZL","AU",jernzlAU],
 ["JERUSA","US",jerusaUS],["JERUSA","AU",jerusaAU],["JERUSA","Both",jerusaBoth]];
const color=d3.scaleOrdinal(origins,originColors);

function paint(sel,pop,col){
  if(pop==="Both") sel.attr("fill","none").attr("stroke",col).attr("stroke-width",4.4);
  else sel.attr("fill",col).attr("stroke","none");
}
const marks=svg.append("g");
layers.forEach(([o,p,pts])=>{
  const g=marks.append("g").attr("class",o+"-"+p);
  g.selectAll("path").data(pts).join("path")
   .attr("d",shape[p])
   .attr("transform",d=>`translate(${x(d[0])},${y(d[1])})`)
   .call(paint,p,color(o));
});

// axes
const xAxisScale=x.copy().domain([x.invert(339),x.invert(2464)]).range([339,2464]);
const yAxisScale=y.copy().domain([y.invert(1493),y.invert(36)]).range([1493,36]);
const gx=svg.append("g").attr("transform","translate(0,1490)")
  .call(d3.axisBottom(xAxisScale).tickValues(xTicks).tickFormat((d,i)=>xTickLabels[i]).tickSize(23).tickSizeOuter(0));
const gy=svg.append("g").attr("transform","translate(342,0)")
  .call(d3.axisLeft(yAxisScale).tickValues(yTicks).tickFormat((d,i)=>yTickLabels[i]).tickSize(25).tickSizeOuter(0));
[gx,gy].forEach(g=>{g.attr("font-family",null).attr("font-size",null);
  g.select(".domain").attr("stroke","#000").attr("stroke-width",6);
  g.selectAll(".tick line").attr("stroke","#000").attr("stroke-width",5);
  g.selectAll("text").attr("font-size",69).attr("fill","#000");});
gx.selectAll("text").attr("y",94).attr("dy",0);
gy.selectAll("text").attr("x",-49).attr("dy",0).attr("y",24.5);

svg.append("text").attr("x",1398).attr("y",1678).attr("text-anchor","middle").attr("font-weight","bold").attr("font-size",78).text("PC1");
svg.append("text").attr("transform","translate(90,766) rotate(-90)").attr("text-anchor","middle").attr("font-weight","bold").attr("font-size",78).text("PC2");

// legends
const lg=svg.append("g").attr("font-size",58);
lg.append("text").attr("x",806).attr("y",1870).attr("font-weight","bold").attr("font-size",60).text("Population");
populations.forEach((p,i)=>{
  const sym=lg.append("path").attr("transform",`translate(${popSymbolX[i]},${p==="Both"?1850:1846})`)
    .attr("d",p==="US"?d3.symbol().type(d3.symbolCircle).size(Math.PI*64)():p==="AU"?d3.symbol().type(d3.symbolTriangle).size(230)():d3.symbol().type(star).size(200)());
  paint(sym,p,"#000");
  lg.append("text").attr("x",popTextX[i]).attr("y",1870).text(p);
});
lg.append("text").attr("x",71).attr("y",2010).attr("text-anchor","end").attr("font-weight","bold").attr("font-size",60).text("Origin");
origins.forEach((o,i)=>{
  lg.append("circle").attr("cx",legendDotX[i]).attr("cy",1989).attr("r",10).attr("fill",originColors[i]);
  lg.append("text").attr("x",legendTextX[i]).attr("y",2010).text(o);
});
</script></body></html>
